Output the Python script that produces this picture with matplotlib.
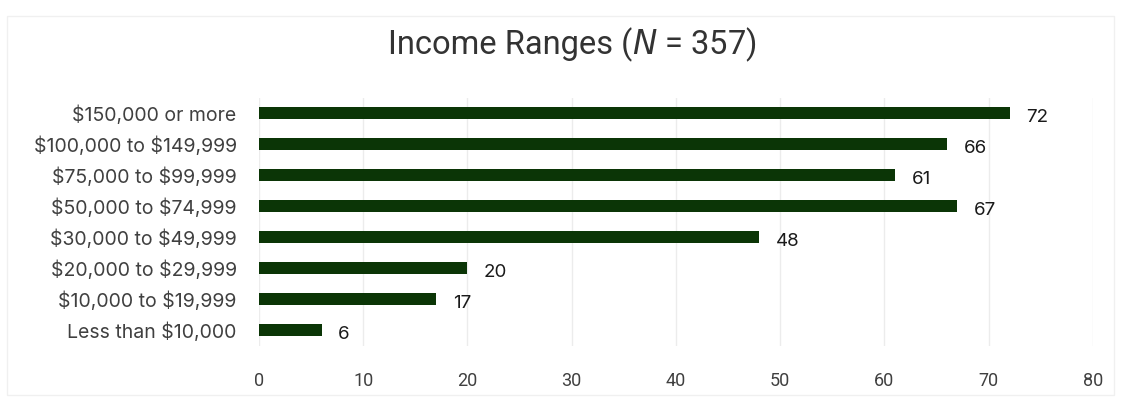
import matplotlib
matplotlib.use("Agg")
import matplotlib.pyplot as plt

categories = [
    "Less than $10,000",
    "$10,000 to $19,999",
    "$20,000 to $29,999",
    "$30,000 to $49,999",
    "$50,000 to $74,999",
    "$75,000 to $99,999",
    "$100,000 to $149,999",
    "$150,000 or more",
]
counts = [6, 17, 20, 48, 67, 61, 66, 72]
x_ticks = [0, 10, 20, 30, 40, 50, 60, 70, 80]

narrow = "Roboto"
regular = "Inter"

bar_color = "#0b3506"
text_gray = "#404040"

fig = plt.figure(figsize=(11.21, 4.07), dpi=100)
ax = fig.add_axes([0.231, 0.151, 0.744, 0.609])

y = list(range(len(categories)))
ax.barh(y, counts, height=0.37, color=bar_color, zorder=3)

for yi, v in zip(y, counts):
    ax.annotate(str(v), (v, yi), xytext=(12, -3), textcoords="offset points",
                va="center", ha="left", fontsize=13.5, family=regular,
                color="#1a1a1a")

ax.set_xlim(0, 80)
ax.set_ylim(-0.5, len(categories) - 0.5)
ax.set_xticks(x_ticks)
ax.set_xticklabels([str(t) for t in x_ticks], family=narrow, fontsize=13,
                   color=text_gray)
ax.set_yticks(y)
ax.set_yticklabels([c.replace("$", r"\$") for c in categories],
                   family=regular, fontsize=14, color=text_gray)
ax.tick_params(axis="x", length=0, pad=19)
ax.tick_params(axis="y", length=0, pad=16)

ax.grid(axis="x", color="#ececec", linewidth=1, zorder=0)
for s in ax.spines.values():
    s.set_visible(False)

fig.text(0.564, 0.89, "Income Ranges (", family=narrow, fontsize=23.5,
         color="#333333", ha="right", va="center")
fig.text(0.564, 0.89, "$\\it{N}$ = 357)", family=narrow, fontsize=23.5,
         color="#333333", ha="left", va="center")

# light chart-area frame
fig.patches.append(plt.Rectangle((0.006, 0.03), 0.988, 0.93, transform=fig.transFigure,
                                 fill=False, edgecolor="#f0f0f0", linewidth=1))

fig.savefig("out.png", dpi=100)
